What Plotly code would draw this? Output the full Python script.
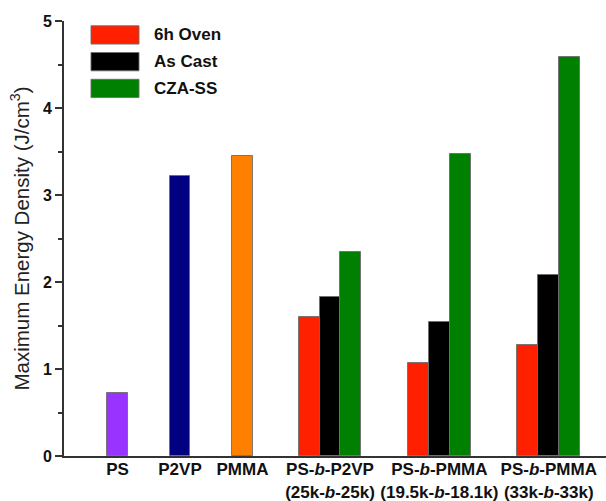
import plotly.graph_objects as go

# ---- data ----
single_labels = ["PS", "P2VP", "PMMA"]
single_values = [0.72, 3.22, 3.45]
group_labels = [
    "PS-<i>b</i>-P2VP<br>(25k-<i>b</i>-25k)",
    "PS-<i>b</i>-PMMA<br>(19.5k-<i>b</i>-18.1k)",
    "PS-<i>b</i>-PMMA<br>(33k-<i>b</i>-33k)",
]
series_names = ["6h Oven", "As Cast", "CZA-SS"]
oven_6h = [1.60, 1.07, 1.28]
as_cast = [1.83, 1.54, 2.08]
cza_ss = [2.34, 3.47, 4.59]

# ---- layout helpers (category positions / styles) ----
single_pos = [1.0, 2.0, 3.0]
group_pos = [4.4, 6.15, 7.9]
bar_w = 0.335
single_colors = ["#9933FF", "#000080", "#FF8000"]
series_colors = ["#FF2000", "#000000", "#008000"]
outline = dict(color="rgba(110,110,110,0.9)", width=1)
FONT = "Liberation Sans, Arial, sans-serif"

fig = go.Figure()
fig.add_trace(go.Bar(
    x=single_pos, y=single_values, width=bar_w,
    marker=dict(color=single_colors, line=outline),
    showlegend=False,
))
for k, (name, vals, col) in enumerate(zip(series_names, [oven_6h, as_cast, cza_ss], series_colors)):
    fig.add_trace(go.Bar(
        x=[p + (k - 1) * bar_w for p in group_pos], y=vals, width=bar_w,
        name=name, marker=dict(color=col, line=outline), showlegend=False,
    ))

# custom legend with large swatches
for k, (name, col) in enumerate(zip(series_names, series_colors)):
    yc = 0.968 - k * 0.0615
    fig.add_shape(type="rect", xref="paper", yref="paper",
                  x0=0.0498, x1=0.1384, y0=yc - 0.021, y1=yc + 0.021,
                  fillcolor=col, line=dict(color="rgba(110,110,110,0.9)", width=1))
    fig.add_annotation(xref="paper", yref="paper", x=0.163, y=yc, text=f"<b>{name}</b>",
                       showarrow=False, xanchor="left", yanchor="middle",
                       font=dict(family=FONT, size=17, color="#111"))

fig.update_layout(
    width=606, height=501,
    margin=dict(l=64, r=0, t=21, b=45),
    plot_bgcolor="white", paper_bgcolor="white",
    barmode="overlay", bargap=0,
    font=dict(family=FONT, size=16, color="#111"),
)
fig.update_xaxes(
    range=[0.144, 8.816],
    tickmode="array",
    tickvals=single_pos + group_pos,
    ticktext=[f"<b>{t}</b>" for t in single_labels + group_labels],
    tickfont=dict(family=FONT, size=17, color="#111"),
    ticklabelstandoff=-3,
    showline=True, linecolor="#333", linewidth=2,
    ticks="", showgrid=False, zeroline=False, automargin=False,
)
fig.update_yaxes(
    range=[0, 5],
    tickvals=[0, 1, 2, 3, 4, 5],
    ticktext=[f"<b>{v}</b>" for v in [0, 1, 2, 3, 4, 5]],
    tickfont=dict(family=FONT, size=16, color="#111"),
    ticks="outside", ticklen=7, tickwidth=1.5, tickcolor="#333",
    minor=dict(ticks="outside", ticklen=4, tickwidth=1.5, tickcolor="#333", dtick=0.5, showgrid=False),
    showline=True, linecolor="#333", linewidth=2,
    showgrid=False, zeroline=False, automargin=False,
    title=dict(text="Maximum Energy Density (J/cm<sup>3</sup>)",
               font=dict(family=FONT, size=20.5, color="#222"), standoff=8),
)

fig.write_html("out.html", config={"displayModeBar": False},
               post_script="document.body.style.margin='0';document.body.style.overflow='hidden';")
